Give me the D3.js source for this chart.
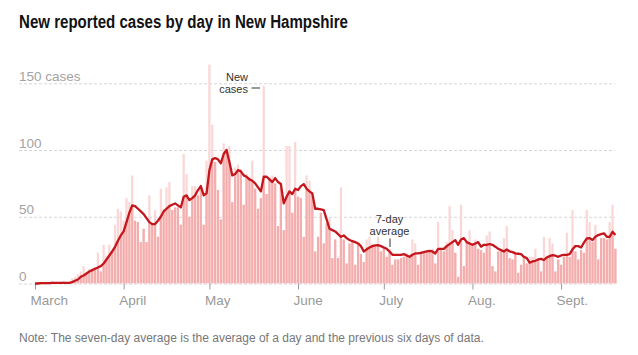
<!DOCTYPE html>
<html><head><meta charset="utf-8">
<script src="https://cdn.jsdelivr.net/npm/d3@7"></script>
<style>
body{margin:0;background:#fff;}
svg{display:block;font-family:"Liberation Sans",Arial,sans-serif;}
</style>
</head><body><svg id="c" width="638" height="355"></svg>
<script>
// Daily new cases, by month (Mar 1 – Sept 20)
const marchCases = [0,1,1,0,0,1,2,0,0,1,2,0,1,4,5,7,9,13,8,11,11,12,23,9,29,21,29,25,44,56,54];
const aprilCases = [47,64,61,81,47,46,31,41,31,66,45,55,35,71,56,72,76,55,57,57,44,97,82,50,73,73,66,74,44,92];
const mayCases   = [164,119,91,70,48,105,101,103,61,87,89,86,59,82,80,92,71,56,64,148,67,80,81,75,43,72,40,103,103,53,106];
const juneCases  = [65,64,35,81,77,67,24,35,53,30,45,49,19,33,19,72,33,15,30,32,14,30,22,16,33,35,30,28,35,24];
const julyCases  = [27,20,26,14,18,18,19,20,23,20,33,30,14,24,23,24,24,26,15,46,26,24,31,58,40,23,5,59,13,31,40];
const augCases   = [30,33,26,25,23,36,39,13,9,24,25,34,43,19,18,24,8,14,20,15,20,20,26,19,9,35,20,34,30,9,18];
const septCases  = [14,20,38,20,55,24,18,25,23,55,46,31,44,18,34,34,33,46,59,26];

// 7-day average, by month
const marchAvg = [0,0,0.3,0.3,0.3,0.3,0.5,0.5,0.5,0.5,0.5,0.5,0.5,1,2,3,5,6,7.5,9,10,11,12,13,15,18,21,24,27.5,32,36];
const aprilAvg = [39,46,53,58.5,58,56,54,52,49,46,44.5,44.5,47,50,54,56,58,59,60,58.5,57,65,66,62.5,64,66,70,73,66,67.5];
const mayAvg   = [85,93,94,93,90,97,100,91,81,82,85,84,81,80,78,77,75,72,69,80,80,78,76,79,76,74.5,60,65,69,67,71];
const juneAvg  = [70,73,74.5,71,69,67.5,56,56,55.5,55,48,41,40,39,37,35,36,34,32.6,31.8,31,30,28,24,25.6,27,28,28.5,28.8,28];
const julyAvg  = [27,26,24,21.5,21.5,21.5,21.5,22,21,20,21.5,22.5,22.5,23,23.5,24,24.5,24,22.5,26,26,26,28,29.5,31,32.5,29,33,34,31,30];
const augAvg   = [29,30,31,27.6,29,29,29.6,29,27.6,26,25,24,25.6,24,23.5,22.6,22.3,22,20,19,15.6,16.5,17,18,18.4,17.6,19.5,20.5,21.2,20.8,20];
const septAvg  = [21,21.4,21.4,22,25.6,28,28,27,30.6,33.8,34,32.6,35,36.3,37,37.6,35,35,38.8,36.3];

const monthLabels = ["March","April","May","June","July","Aug.","Sept."];
const yTicks = [0,50,100,150];

const caseMonths = [marchCases,aprilCases,mayCases,juneCases,julyCases,augCases,septCases];
const avgMonths  = [marchAvg,aprilAvg,mayAvg,juneAvg,julyAvg,augAvg,septAvg];

const data = [];
caseMonths.forEach((arr,m) => arr.forEach((v,i) => {
  data.push({date: new Date(Date.UTC(2020, 2+m, i+1)), cases: v, avg: avgMonths[m][i]});
}));

const svg = d3.select("#c");
const x = d3.scaleUtc()
  .domain([new Date(Date.UTC(2020,2,1)), new Date(Date.UTC(2020,8,20))])
  .range([35, 615.4]);
const y = d3.scaleLinear().domain([0,150]).range([283.5, 83.3]);

// Title
const title = svg.append("text").attr("x",19).attr("y",28)
  .attr("font-size",17.5).attr("font-weight","bold").attr("fill","#121212")
  .text("New reported cases by day in New Hampshire");
if (title.node().getComputedTextLength() > 330) title.attr("textLength",329).attr("lengthAdjust","spacingAndGlyphs");

// Grid + y labels
const gy = svg.append("g").attr("transform","translate(19,0)")
  .call(d3.axisRight(y).tickValues(yTicks).tickSize(596).tickFormat(d => d===150 ? "150 cases" : d));
gy.select(".domain").remove();
gy.selectAll(".tick line").attr("stroke","#d6d6d6").attr("stroke-dasharray","3,2");
gy.selectAll(".tick text").attr("x",0).attr("dy",null).attr("y",-3)
  .attr("text-anchor","start").attr("font-size",13.5).attr("fill","#a3a3a3")
  .attr("font-family","Liberation Sans, Arial, sans-serif");

// Bars
const bw = 2.2;
svg.append("g").selectAll("rect").data(data).join("rect")
  .attr("x", d => x(d.date) - bw/2).attr("width", bw)
  .attr("y", d => y(d.cases)).attr("height", d => y(0) - y(d.cases))
  .attr("fill","#fad6d6");

const area = d3.area().x(d => x(d.date)).y0(y(0)).y1(d => y(d.avg));
const areaData = [{date: new Date(Date.UTC(2020,1,28)), avg: data[0].avg}, ...data,
  {date: new Date(Date.UTC(2020,8,22)), avg: data[data.length-1].avg}];
svg.append("clipPath").attr("id","under").append("path").attr("d", area(areaData));
svg.append("g").attr("clip-path","url(#under)").selectAll("rect").data(data).join("rect")
  .attr("x", d => x(d.date) - bw/2).attr("width", bw)
  .attr("y", d => y(d.cases)).attr("height", d => y(0) - y(d.cases))
  .attr("fill","#f4adad");

// X axis
const monthStarts = d3.range(7).map(m => new Date(Date.UTC(2020, 2+m, 1)));
const gx = svg.append("g").attr("transform",`translate(0,${y(0)})`)
  .call(d3.axisBottom(x).tickValues(monthStarts).tickSize(6).tickFormat((d,i) => monthLabels[i]));
gx.select(".domain").remove();
gx.selectAll(".tick line").attr("stroke","#999");
gx.selectAll(".tick text").attr("x",-5).attr("y",21.5).attr("dy",null)
  .attr("text-anchor","start").attr("font-size",13.5).attr("fill","#999")
  .attr("font-family","Liberation Sans, Arial, sans-serif");

// 7-day average line
svg.append("path").datum(data)
  .attr("d", d3.line().x(d => x(d.date)).y(d => y(d.avg)))
  .attr("fill","none").attr("stroke","#c4161c").attr("stroke-width",2.3)
  .attr("stroke-linejoin","round");

// Annotations
const ann = svg.append("g").attr("font-size",11).attr("fill","#333");
ann.append("text").attr("x",248).attr("y",80.5).attr("text-anchor","end").text("New");
ann.append("text").attr("x",248).attr("y",93.3).attr("text-anchor","end").text("cases");
svg.append("line").attr("x1",251.5).attr("x2",260).attr("y1",88).attr("y2",88).attr("stroke","#333");

ann.append("text").attr("x",389.5).attr("y",222.5).attr("text-anchor","middle").text("7-day");
ann.append("text").attr("x",389.5).attr("y",235.3).attr("text-anchor","middle").text("average");
svg.append("line").attr("x1",390).attr("x2",390).attr("y1",238.5).attr("y2",247).attr("stroke","#333");

// Note
const note = svg.append("text").attr("x",19).attr("y",342).attr("font-size",12).attr("fill","#777")
  .text("Note: The seven-day average is the average of a day and the previous six days of data.");
const nl = note.node().getComputedTextLength();
if (Math.abs(nl - 468) > 4) note.attr("textLength",468).attr("lengthAdjust","spacingAndGlyphs");
</script>
</body></html>
